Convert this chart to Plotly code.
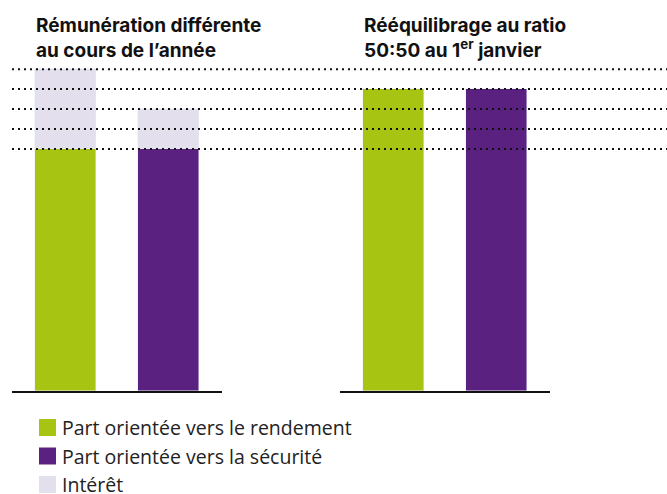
import plotly.graph_objects as go
from plotly.subplots import make_subplots

# --- data ---
categories = ["Rendement", "Sécurité"]
base_values = [100, 100]              # before rebalancing (green / purple)
interest_values = [33, 16.5]          # interest added during the year
rebalanced_values = [124.75, 124.75]  # after 50:50 rebalancing
reference_levels = [100, 108.25, 116.5, 124.75, 133]
panel_titles = ["<b>Rémunération différente<br>au cours de l’année</b>",
                "<b>Rééquilibrage au ratio<br>50:50 au 1<sup>er</sup> janvier</b>"]
legend_labels = ["Part orientée vers le rendement",
                 "Part orientée vers la sécurité",
                 "Intérêt"]

GREEN = "#A7C413"
PURPLE = "#5B2180"
LAVENDER = "#E4DFEC"
bar_colors = [GREEN, PURPLE]
legend_colors = [GREEN, PURPLE, LAVENDER]

W, H = 667, 494
ML, MR, MT, MB = 12, 0, 60, 103
plot_w = W - ML - MR
plot_h = H - MT - MB
px_per_unit = 2.42
ymax = plot_h / px_per_unit


def px_x(p):
    return (p - ML) / plot_w


def px_y(p):
    return (H - MB - p) / plot_h


fig = make_subplots(rows=1, cols=2)

fig.add_trace(go.Bar(x=categories, y=base_values, marker_color=bar_colors,
                     width=0.592, showlegend=False, hoverinfo="skip"), row=1, col=1)
fig.add_trace(go.Bar(x=categories, y=interest_values, marker_color=LAVENDER,
                     width=0.592, showlegend=False, hoverinfo="skip"), row=1, col=1)
fig.add_trace(go.Bar(x=categories, y=rebalanced_values, marker_color=bar_colors,
                     width=0.592, showlegend=False, hoverinfo="skip"), row=1, col=2)

fig.update_layout(barmode="stack", bargap=0)

fig.update_xaxes(range=[-0.52, 1.52], showticklabels=False, showgrid=False,
                 zeroline=False, showline=True, linecolor="#111", linewidth=2, ticks="")
fig.update_layout(xaxis=dict(domain=(0, px_x(222))),
                  xaxis2=dict(domain=(px_x(340), px_x(550))))
fig.update_yaxes(range=[0, ymax], visible=False, showgrid=False)
fig.update_layout(yaxis2=dict(matches="y"))

# dotted reference levels across the whole width
for lv in reference_levels:
    fig.add_shape(type="line", xref="paper", x0=0, x1=1, yref="y", y0=lv, y1=lv,
                  line=dict(color="#111", width=2, dash="2px,4px"), layer="above")

# panel titles
for t, xp in zip(panel_titles, [35, 363]):
    fig.add_annotation(text=t, xref="paper", yref="paper", x=px_x(xp - 1), y=px_y(12.5),
                       xanchor="left", yanchor="top", align="left", showarrow=False,
                       font=dict(family="Inter", size=19, color="#111"))

# legend (manual)
row_centers = [427.5, 456, 484.5]
for lab, col, yc in zip(legend_labels, legend_colors, row_centers):
    fig.add_shape(type="rect", xref="paper", yref="paper",
                  x0=px_x(39), x1=px_x(56), y0=px_y(yc - 8.5), y1=px_y(yc + 8.5),
                  fillcolor=col, line=dict(width=0))
    fig.add_annotation(text=lab, xref="paper", yref="paper", x=px_x(60), y=px_y(yc),
                       xanchor="left", yanchor="middle", showarrow=False,
                       font=dict(family="Open Sans", size=19.5, color="#222"))

fig.update_layout(
    width=W, height=H,
    margin=dict(l=ML, r=MR, t=MT, b=MB, autoexpand=False),
    paper_bgcolor="white", plot_bgcolor="white",
    showlegend=False,
)

fig.write_html("out.html", config={"displayModeBar": False},
               post_script="document.body.style.margin='0';document.body.style.overflow='hidden';")
